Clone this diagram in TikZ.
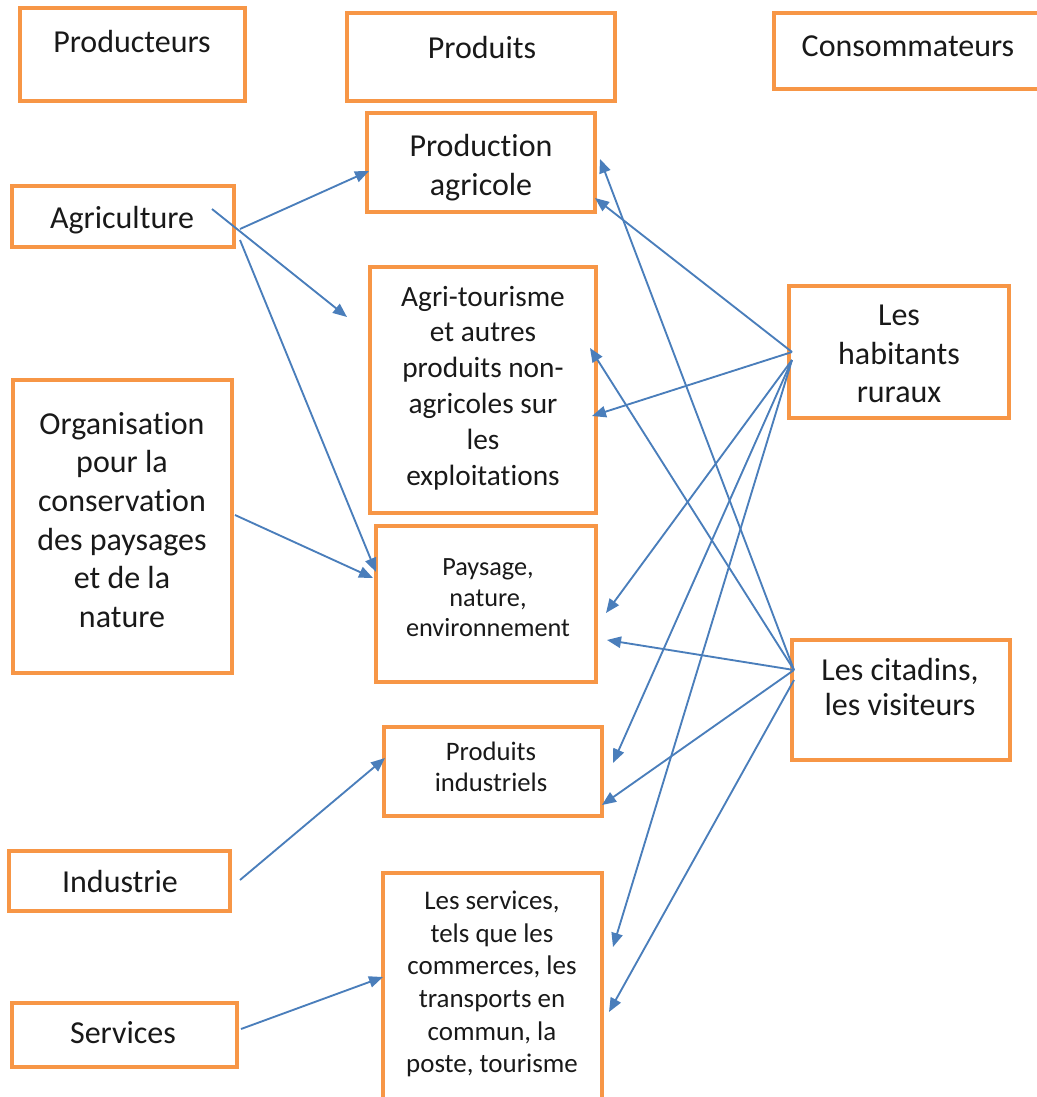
\documentclass[tikz,border=0pt]{standalone}
\usepackage{fontspec}
\setmainfont{Carlito}[Ligatures={NoCommon,NoContextual}]
\usetikzlibrary{arrows.meta,fit}
\definecolor{boxorange}{HTML}{F79646}
\definecolor{arrowblue}{HTML}{4A7EBB}
\begin{document}
\begin{tikzpicture}[x=0.75pt,y=-0.75pt,
  box/.style={draw=boxorange,line width=2.4pt,inner sep=0pt,rectangle},
  txt/.style={align=center,inner sep=0pt,yshift=-2.25pt,text=black!90},
  txtA/.style={txt,font=\fontsize{24}{29}\selectfont},
  txtB/.style={txt,font=\fontsize{22}{26.9}\selectfont},
  txtC/.style={txt,font=\fontsize{19.7}{22.9}\selectfont},
  txtD/.style={txt,font=\fontsize{20}{23.3}\selectfont},
  txtE/.style={txt,font=\fontsize{20.2}{24.5}\selectfont},
  txtF/.style={txt,font=\fontsize{24}{26.5}\selectfont},
  arr/.style={draw=arrowblue,line width=1.4pt,-{Triangle[length=10.5pt,width=8.5pt]}}]
\useasboundingbox (0,0) rectangle (1037,1097);
\clip (0,0) rectangle (1037,1097);

% boxes
\node[box,fit={(20,8)(245,101)}] (producteurs) {};
\node[box,fit={(347,13)(615,101)}] (produits) {};
\node[box,fit={(774,13)(1045,89)}] (consommateurs) {};
\node[box,fit={(367,113)(595,212)}] (prodagri) {};
\node[box,fit={(12,186)(234,247)}] (agriculture) {};
\node[box,fit={(370,267)(596,513)}] (agritour) {};
\node[box,fit={(13,380)(232,673)}] (organisation) {};
\node[box,fit={(376,526)(596,682)}] (paysage) {};
\node[box,fit={(789,286)(1009,418)}] (habitants) {};
\node[box,fit={(792,640)(1010,760)}] (citadins) {};
\node[box,fit={(384,727)(602,816)}] (prodind) {};
\node[box,fit={(9,851)(230,911)}] (industrie) {};
\node[box,fit={(383,873)(602,1110)}] (lesservices) {};
\node[box,fit={(12,1003)(237,1067)}] (services) {};

% texts
\node[txtA] (tproducteurs) at (132,42) {\strut Producteurs\strut};
\node[txtA] (tproduits) at (482,48) {\strut Produits\strut};
\node[txtA] (tconsommateurs) at (908,46) {\strut Consommateurs\strut};
\node[txtA] (tprodagri) at (481,165) {\strut Production\\agricole\strut};
\node[txtA] (tagriculture) at (122,218) {\strut Agriculture\strut};
\node[txtB] (tagritour) at (483,385.5) {\strut Agri-tourisme\\et autres\\produits non-\\agricoles sur\\les\\exploitations\strut};
\node[txtA] (torganisation) at (122,520) {\strut Organisation\\pour la\\conservation\\des paysages\\et de la\\nature\strut};
\node[txtC] (tpaysage) at (488,597) {\strut Paysage,\\nature,\\environnement\strut};
\node[txtA] (thabitants) at (899,353.5) {\strut Les\\habitants\\ruraux\strut};
\node[txtF] (tcitadins) at (900,688) {\strut Les citadins,\\les visiteurs\strut};
\node[txtD] (tprodind) at (491,767) {\strut Produits\\industriels\strut};
\node[txtA] (tindustrie) at (120,882) {\strut Industrie\strut};
\node[txtE] (tlesservices) at (492,981.5) {\strut Les services,\\tels que les\\commerces, les\\transports en\\commun, la\\poste, tourisme\strut};
\node[txtA] (tservices) at (123,1033) {\strut Services\strut};

% connector end points
\coordinate (ag1) at (240,229);
\coordinate (ag2) at (212,209);
\coordinate (ag3) at (240,240);
\coordinate (org1) at (235,515);
\coordinate (ind1) at (240,880);
\coordinate (ser1) at (241,1029);
\coordinate (h1) at (792,352);
\coordinate (h2) at (792,360);
\coordinate (c1) at (794,670);
\coordinate (c2) at (794,680);

\coordinate (paL) at (369,171);
\coordinate (paR1) at (600,159);
\coordinate (paR2) at (595,198);
\coordinate (atL) at (347,317);
\coordinate (atR1) at (590,348);
\coordinate (atR2) at (592,416);
\coordinate (pyL1) at (376,572);
\coordinate (pyL2) at (373,578);
\coordinate (pyR1) at (606,613);
\coordinate (pyR2) at (607,640);
\coordinate (piL) at (385,758);
\coordinate (piR1) at (613,763);
\coordinate (piR2) at (602,805);
\coordinate (lsL) at (383,977);
\coordinate (lsR1) at (613,947);
\coordinate (lsR2) at (609,1012);

% connectors
\draw[arr] (ag1) -- (paL);
\draw[arr] (ag2) -- (atL);
\draw[arr] (ag3) -- (pyL1);
\draw[arr] (org1) -- (pyL2);
\draw[arr] (ind1) -- (piL);
\draw[arr] (ser1) -- (lsL);

\draw[arr] (h1) -- (paR2);
\draw[arr] (h1) -- (atR2);
\draw[arr] (h2) -- (pyR1);
\draw[arr] (h2) -- (piR1);
\draw[arr] (h2) -- (lsR1);

\draw[arr] (c1) -- (paR1);
\draw[arr] (c1) -- (atR1);
\draw[arr] (c1) -- (pyR2);
\draw[arr] (c1) -- (piR2);
\draw[arr] (c2) -- (lsR2);
\end{tikzpicture}
\end{document}
